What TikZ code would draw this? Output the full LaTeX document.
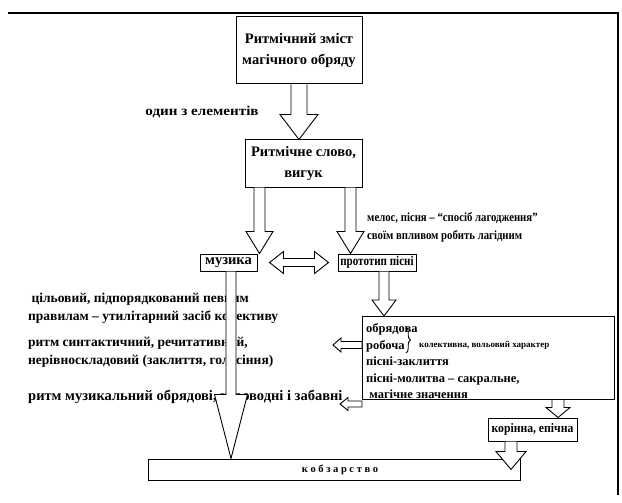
\documentclass[tikz,border=0pt]{standalone}
\usepackage{fontspec}
\setmainfont{Liberation Serif}
\usetikzlibrary{calc,decorations.pathreplacing}
\tikzset{
  box/.style={draw, line width=1pt, inner sep=0pt, align=center, font=\bfseries\fontsize{14.5}{21}\selectfont},
  lbl/.style={inner sep=0pt, align=left, anchor=west, font=\bfseries\fontsize{13.5}{18}\selectfont},
  harrow/.style={draw, fill=white, line width=0.9pt, line join=miter},
  bdown/.style n args={3}{to path={let \p1=(\tikztostart), \p2=(\tikztotarget) in
    (\x1-#1,\y1) -- (\x1-#1,\y2+#3) -- (\x1-#2,\y2+#3) -- (\x1,\y2) -- (\x1+#2,\y2+#3) -- (\x1+#1,\y2+#3) -- (\x1+#1,\y1)}},
  bleft/.style n args={3}{to path={let \p1=(\tikztostart), \p2=(\tikztotarget) in
    (\x1,\y1+#1) -- (\x2+#3,\y1+#1) -- (\x2+#3,\y1+#2) -- (\x2,\y1) -- (\x2+#3,\y1-#2) -- (\x2+#3,\y1-#1) -- (\x1,\y1-#1) -- cycle}},
  bdouble/.style n args={3}{to path={let \p1=(\tikztostart), \p2=(\tikztotarget) in
    (\x1,\y1) -- (\x1+#3,\y1+#2) -- (\x1+#3,\y1+#1) -- (\x2-#3,\y1+#1) -- (\x2-#3,\y1+#2) -- (\x2,\y1) -- (\x2-#3,\y1-#2) -- (\x2-#3,\y1-#1) -- (\x1+#3,\y1-#1) -- (\x1+#3,\y1-#2) -- cycle}},
}
\begin{document}
\begin{tikzpicture}[x=1pt,y=-1pt]
\useasboundingbox (0,0) rectangle (622,503);
% frame
\draw[line width=1.1pt] (8,13) -- (618,13) -- (618,495);

% boxes
\node[box, minimum width=126, minimum height=67] (b1) at (299,50.5) {Ритмічний зміст\\магічного обряду};
\node[box, minimum width=117, minimum height=47] (b2) at (303.5,163.5) {Ритмічне слово,\\вигук};
\node[box, minimum width=57, minimum height=17] (muz) at (228.5,262.5) {музика};
\node[box, font=\bfseries\fontsize{13.5}{14}\selectfont, minimum width=78, minimum height=17] (proto) at (377,262.5) {\scalebox{0.82}[1]{прототип пісні}};
\node[box, minimum width=252, minimum height=83, anchor=north west] (big) at (362,316) {};
\node[box, font=\bfseries\fontsize{13}{14}\selectfont, minimum width=89, minimum height=23] (kor) at (532.5,429.5) {\scalebox{0.9}[1]{корінна, епічна}};
\node[box, font=\bfseries\fontsize{10.5}{14}\selectfont, minimum width=372, minimum height=21] (kob) at (334,469.5) {\hspace{12pt}к о б з а р с т в о};

% labels
\node[lbl, anchor=center] (l0) at (202,112) {\scalebox{1.12}[1]{один з елементів}};
\node[lbl, font=\bfseries\fontsize{12.5}{18}\selectfont] (l1) at (367,227) {\scalebox{0.86}[1]{мелос, пісня – “спосіб лагодження”}\\\scalebox{0.86}[1]{своїм впливом робить лагідним}};
\node[lbl] (l2) at (28,308) {\ цільовий, підпорядкований певним\\правилам – утилітарний засіб колективу};
\node[lbl] (l3) at (28,352) {ритм синтактичний, речитативний,\\нерівноскладовий (заклиття, голосіння)};
\node[lbl, font=\bfseries\fontsize{14.5}{18}\selectfont] (l4) at (28,397) {ритм музикальний обрядові, хороводні і забавні};
\node[lbl, font=\bfseries\fontsize{12.5}{16.5}\selectfont] (bt) at (366,361.5) {обрядова\\робоча\\пісні-заклиття\\пісні-молитва – сакральне,\\\ магічне значення};
\node[lbl, font=\bfseries\fontsize{9}{10}\selectfont] (bs) at (419,345) {колективна, вольовий характер};
\draw[line width=0.9pt, decorate, decoration={brace, amplitude=4.5pt}] (406,327) -- (406,353);

% connectors
\draw[harrow] (b1.south) to[bdown={8pt}{19pt}{25pt}] (b2.north);
\draw[harrow] ([xshift=-44pt]b2.south) to[bdown={5.5pt}{13.5pt}{22pt}] (muz.north);
\draw[harrow] ([xshift=47pt]b2.south) to[bdown={5.5pt}{13.5pt}{22pt}] (proto.north);
\draw[harrow] ([xshift=12pt]muz.east) to[bdouble={4pt}{11pt}{14pt}] ([xshift=-9pt]proto.west);
\draw[harrow] ([xshift=7pt]proto.south) to[bdown={5pt}{12pt}{16pt}] (big.north);
\draw[harrow] ([xshift=2.5pt]muz.south) to[bdown={5pt}{16.5pt}{64pt}] (kob.north);
\coordinate (t1) at (333,345);
\coordinate (t2) at (340,404);
\draw[harrow] (big.west |- t1) to[bleft={3.5pt}{7pt}{8pt}] (t1);
\draw[harrow] (big.west |- t2) to[bleft={3pt}{6.5pt}{8pt}] (t2);
\draw[harrow] ([xshift=25.5pt]kor.north |- big.south) to[bdown={6pt}{12pt}{10pt}] ([xshift=25.5pt]kor.north);
\draw[harrow] ([xshift=-21.5pt]kor.south) to[bdown={6pt}{15pt}{18pt}] ([yshift=-11pt]kob.north);
\end{tikzpicture}
\end{document}
